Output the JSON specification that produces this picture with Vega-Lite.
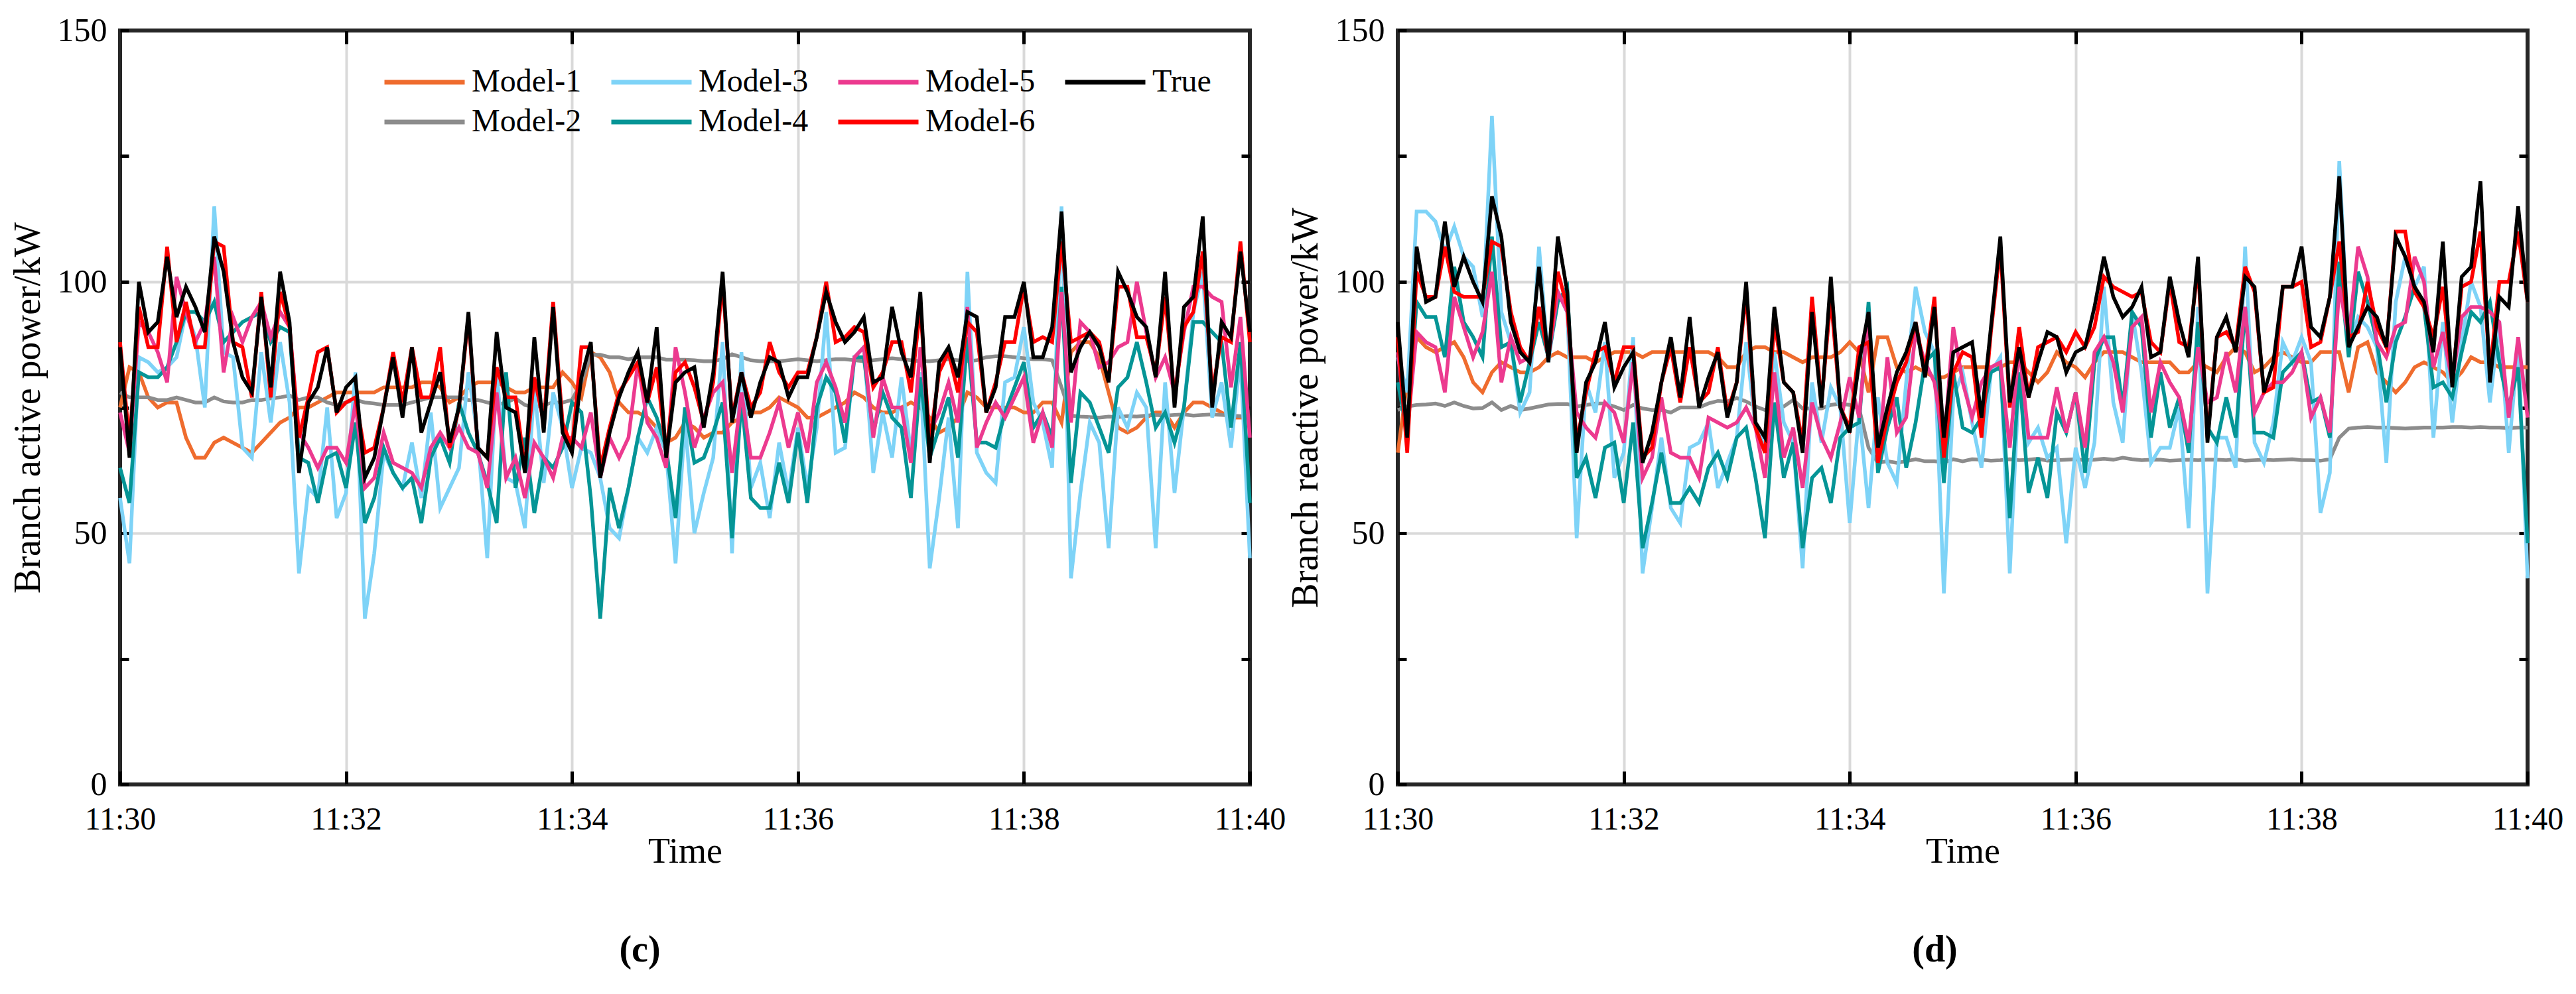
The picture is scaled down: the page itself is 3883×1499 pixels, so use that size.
{
  "$schema": "https://vega.github.io/schema/vega-lite/v6.json",
  "background": "white",
  "padding": {"left": 11, "top": 18, "right": 5, "bottom": 5},
  "spacing": 223,
  "bounds": "flush",
  "config": {
    "font": "Liberation Serif",
    "view": {"stroke": "#262626", "strokeWidth": 6},
    "axis": {
      "labelFont": "Liberation Serif",
      "titleFont": "Liberation Serif",
      "labelColor": "black",
      "titleColor": "black",
      "titleFontWeight": "normal",
      "domain": false,
      "tickColor": "black",
      "tickWidth": 5,
      "labelFlush": false,
      "labelOverlap": false,
      "gridColor": "#d9d9d9",
      "gridWidth": 4
    },
    "legend": {
      "orient": "none",
      "columns": 4,
      "symbolType": "M-2,0H2",
      "symbolSize": 3660,
      "symbolStrokeWidth": 7,
      "symbolOffset": 16,
      "labelOffset": 37,
      "labelFont": "Liberation Serif",
      "labelFontSize": 48,
      "labelColor": "black",
      "labelLimit": 400,
      "columnPadding": 30,
      "rowPadding": 2,
      "padding": 0,
      "title": null
    },
    "title": {"font": "Liberation Serif"}
  },
  "datasets": {
    "c": [
      {"s":"Model-1","t":0,"v":75},{"s":"Model-1","t":5,"v":83},{"s":"Model-1","t":10,"v":82},{"s":"Model-1","t":15,"v":77},{"s":"Model-1","t":20,"v":75},{"s":"Model-1","t":25,"v":76},{"s":"Model-1","t":30,"v":76},{"s":"Model-1","t":35,"v":69},{"s":"Model-1","t":40,"v":65},{"s":"Model-1","t":45,"v":65},
      {"s":"Model-1","t":50,"v":68},{"s":"Model-1","t":55,"v":69},{"s":"Model-1","t":60,"v":68},{"s":"Model-1","t":65,"v":67},{"s":"Model-1","t":70,"v":66},{"s":"Model-1","t":75,"v":68},{"s":"Model-1","t":80,"v":70},{"s":"Model-1","t":85,"v":72},{"s":"Model-1","t":90,"v":73},{"s":"Model-1","t":95,"v":75},
      {"s":"Model-1","t":100,"v":75},{"s":"Model-1","t":105,"v":76},{"s":"Model-1","t":110,"v":77},{"s":"Model-1","t":115,"v":78},{"s":"Model-1","t":120,"v":78},{"s":"Model-1","t":125,"v":78},{"s":"Model-1","t":130,"v":78},{"s":"Model-1","t":135,"v":78},{"s":"Model-1","t":140,"v":79},{"s":"Model-1","t":145,"v":79},
      {"s":"Model-1","t":150,"v":79},{"s":"Model-1","t":155,"v":79},{"s":"Model-1","t":160,"v":80},{"s":"Model-1","t":165,"v":80},{"s":"Model-1","t":170,"v":79},{"s":"Model-1","t":175,"v":76},{"s":"Model-1","t":180,"v":77},{"s":"Model-1","t":185,"v":79},{"s":"Model-1","t":190,"v":80},{"s":"Model-1","t":195,"v":80},
      {"s":"Model-1","t":200,"v":80},{"s":"Model-1","t":205,"v":79},{"s":"Model-1","t":210,"v":78},{"s":"Model-1","t":215,"v":78},{"s":"Model-1","t":220,"v":79},{"s":"Model-1","t":225,"v":79},{"s":"Model-1","t":230,"v":79},{"s":"Model-1","t":235,"v":82},{"s":"Model-1","t":240,"v":80},{"s":"Model-1","t":245,"v":77},
      {"s":"Model-1","t":250,"v":86},{"s":"Model-1","t":255,"v":85},{"s":"Model-1","t":260,"v":82},{"s":"Model-1","t":265,"v":76},{"s":"Model-1","t":270,"v":74},{"s":"Model-1","t":275,"v":74},{"s":"Model-1","t":280,"v":73},{"s":"Model-1","t":285,"v":71},{"s":"Model-1","t":290,"v":68},{"s":"Model-1","t":295,"v":69},
      {"s":"Model-1","t":300,"v":72},{"s":"Model-1","t":305,"v":71},{"s":"Model-1","t":310,"v":69},{"s":"Model-1","t":315,"v":70},{"s":"Model-1","t":320,"v":70},{"s":"Model-1","t":325,"v":72},{"s":"Model-1","t":330,"v":73},{"s":"Model-1","t":335,"v":74},{"s":"Model-1","t":340,"v":74},{"s":"Model-1","t":345,"v":75},
      {"s":"Model-1","t":350,"v":77},{"s":"Model-1","t":355,"v":76},{"s":"Model-1","t":360,"v":75},{"s":"Model-1","t":365,"v":73},{"s":"Model-1","t":370,"v":73},{"s":"Model-1","t":375,"v":74},{"s":"Model-1","t":380,"v":75},{"s":"Model-1","t":385,"v":76},{"s":"Model-1","t":390,"v":78},{"s":"Model-1","t":395,"v":77},
      {"s":"Model-1","t":400,"v":75},{"s":"Model-1","t":405,"v":74},{"s":"Model-1","t":410,"v":74},{"s":"Model-1","t":415,"v":75},{"s":"Model-1","t":420,"v":76},{"s":"Model-1","t":425,"v":75},{"s":"Model-1","t":430,"v":73},{"s":"Model-1","t":435,"v":70},{"s":"Model-1","t":440,"v":71},{"s":"Model-1","t":445,"v":73},
      {"s":"Model-1","t":450,"v":78},{"s":"Model-1","t":455,"v":77},{"s":"Model-1","t":460,"v":75},{"s":"Model-1","t":465,"v":75},{"s":"Model-1","t":470,"v":75},{"s":"Model-1","t":475,"v":75},{"s":"Model-1","t":480,"v":74},{"s":"Model-1","t":485,"v":74},{"s":"Model-1","t":490,"v":76},{"s":"Model-1","t":495,"v":76},
      {"s":"Model-1","t":500,"v":72},{"s":"Model-1","t":505,"v":86},{"s":"Model-1","t":510,"v":88},{"s":"Model-1","t":515,"v":88},{"s":"Model-1","t":520,"v":85},{"s":"Model-1","t":525,"v":78},{"s":"Model-1","t":530,"v":71},{"s":"Model-1","t":535,"v":70},{"s":"Model-1","t":540,"v":71},{"s":"Model-1","t":545,"v":73},
      {"s":"Model-1","t":550,"v":74},{"s":"Model-1","t":555,"v":74},{"s":"Model-1","t":560,"v":71},{"s":"Model-1","t":565,"v":74},{"s":"Model-1","t":570,"v":76},{"s":"Model-1","t":575,"v":76},{"s":"Model-1","t":580,"v":75},{"s":"Model-1","t":585,"v":74},{"s":"Model-1","t":590,"v":73},{"s":"Model-1","t":595,"v":73},{"s":"Model-1","t":600,"v":73},

      {"s":"Model-2","t":0,"v":78},{"s":"Model-2","t":5,"v":77},{"s":"Model-2","t":10,"v":77},{"s":"Model-2","t":15,"v":77},{"s":"Model-2","t":20,"v":76.5},{"s":"Model-2","t":25,"v":76.5},{"s":"Model-2","t":30,"v":77},{"s":"Model-2","t":35,"v":76.5},{"s":"Model-2","t":40,"v":76},{"s":"Model-2","t":45,"v":76},
      {"s":"Model-2","t":50,"v":77},{"s":"Model-2","t":55,"v":76.2},{"s":"Model-2","t":60,"v":76},{"s":"Model-2","t":65,"v":76},{"s":"Model-2","t":70,"v":76.5},{"s":"Model-2","t":75,"v":76.5},{"s":"Model-2","t":80,"v":76.8},{"s":"Model-2","t":85,"v":77},{"s":"Model-2","t":90,"v":77.4},{"s":"Model-2","t":95,"v":76.5},
      {"s":"Model-2","t":100,"v":77},{"s":"Model-2","t":105,"v":77},{"s":"Model-2","t":110,"v":76},{"s":"Model-2","t":115,"v":75.5},{"s":"Model-2","t":120,"v":76},{"s":"Model-2","t":125,"v":76.5},{"s":"Model-2","t":130,"v":76},{"s":"Model-2","t":135,"v":75.8},{"s":"Model-2","t":140,"v":75.5},{"s":"Model-2","t":145,"v":75.5},
      {"s":"Model-2","t":150,"v":75.5},{"s":"Model-2","t":155,"v":76},{"s":"Model-2","t":160,"v":76.5},{"s":"Model-2","t":165,"v":77},{"s":"Model-2","t":170,"v":77},{"s":"Model-2","t":175,"v":77},{"s":"Model-2","t":180,"v":77},{"s":"Model-2","t":185,"v":76.5},{"s":"Model-2","t":190,"v":76.5},{"s":"Model-2","t":195,"v":76},
      {"s":"Model-2","t":200,"v":75.5},{"s":"Model-2","t":205,"v":76},{"s":"Model-2","t":210,"v":76.8},{"s":"Model-2","t":215,"v":75.5},{"s":"Model-2","t":220,"v":75},{"s":"Model-2","t":225,"v":75.5},{"s":"Model-2","t":230,"v":76},{"s":"Model-2","t":235,"v":76},{"s":"Model-2","t":240,"v":76.5},{"s":"Model-2","t":245,"v":80},
      {"s":"Model-2","t":250,"v":85.5},{"s":"Model-2","t":255,"v":85.5},{"s":"Model-2","t":260,"v":85},{"s":"Model-2","t":265,"v":85},{"s":"Model-2","t":270,"v":84.6},{"s":"Model-2","t":275,"v":85},{"s":"Model-2","t":280,"v":85},{"s":"Model-2","t":285,"v":85},{"s":"Model-2","t":290,"v":84.5},{"s":"Model-2","t":295,"v":84.5},
      {"s":"Model-2","t":300,"v":84.5},{"s":"Model-2","t":305,"v":84.4},{"s":"Model-2","t":310,"v":84.2},{"s":"Model-2","t":315,"v":84.2},{"s":"Model-2","t":320,"v":84.6},{"s":"Model-2","t":325,"v":85.6},{"s":"Model-2","t":330,"v":85},{"s":"Model-2","t":335,"v":84.4},{"s":"Model-2","t":340,"v":84.2},{"s":"Model-2","t":345,"v":84.2},
      {"s":"Model-2","t":350,"v":84.2},{"s":"Model-2","t":355,"v":84.4},{"s":"Model-2","t":360,"v":84.6},{"s":"Model-2","t":365,"v":84.4},{"s":"Model-2","t":370,"v":84.2},{"s":"Model-2","t":375,"v":84.4},{"s":"Model-2","t":380,"v":84.6},{"s":"Model-2","t":385,"v":84.6},{"s":"Model-2","t":390,"v":84.4},{"s":"Model-2","t":395,"v":84.2},
      {"s":"Model-2","t":400,"v":84.4},{"s":"Model-2","t":405,"v":84.6},{"s":"Model-2","t":410,"v":84.8},{"s":"Model-2","t":415,"v":84.6},{"s":"Model-2","t":420,"v":84.4},{"s":"Model-2","t":425,"v":84.2},{"s":"Model-2","t":430,"v":84.2},{"s":"Model-2","t":435,"v":84.4},{"s":"Model-2","t":440,"v":84.6},{"s":"Model-2","t":445,"v":84.4},
      {"s":"Model-2","t":450,"v":84.2},{"s":"Model-2","t":455,"v":84.4},{"s":"Model-2","t":460,"v":85},{"s":"Model-2","t":465,"v":85.2},{"s":"Model-2","t":470,"v":85.2},{"s":"Model-2","t":475,"v":85},{"s":"Model-2","t":480,"v":84.8},{"s":"Model-2","t":485,"v":84.6},{"s":"Model-2","t":490,"v":84.6},{"s":"Model-2","t":495,"v":84.4},
      {"s":"Model-2","t":500,"v":79},{"s":"Model-2","t":505,"v":73.4},{"s":"Model-2","t":510,"v":73.2},{"s":"Model-2","t":515,"v":73.1},{"s":"Model-2","t":520,"v":73},{"s":"Model-2","t":525,"v":73.2},{"s":"Model-2","t":530,"v":73.1},{"s":"Model-2","t":535,"v":73.3},{"s":"Model-2","t":540,"v":73.2},{"s":"Model-2","t":545,"v":73.4},
      {"s":"Model-2","t":550,"v":73.5},{"s":"Model-2","t":555,"v":73.4},{"s":"Model-2","t":560,"v":73.5},{"s":"Model-2","t":565,"v":73.6},{"s":"Model-2","t":570,"v":73.4},{"s":"Model-2","t":575,"v":73.5},{"s":"Model-2","t":580,"v":73.6},{"s":"Model-2","t":585,"v":73.5},{"s":"Model-2","t":590,"v":73.4},{"s":"Model-2","t":595,"v":73.3},{"s":"Model-2","t":600,"v":73.3},

      {"s":"Model-3","t":0,"v":57},{"s":"Model-3","t":5,"v":44},{"s":"Model-3","t":10,"v":85},{"s":"Model-3","t":15,"v":84},{"s":"Model-3","t":20,"v":82},{"s":"Model-3","t":25,"v":83},{"s":"Model-3","t":30,"v":85},{"s":"Model-3","t":35,"v":94},{"s":"Model-3","t":40,"v":89},{"s":"Model-3","t":45,"v":75},
      {"s":"Model-3","t":50,"v":115},{"s":"Model-3","t":55,"v":86},{"s":"Model-3","t":60,"v":85},{"s":"Model-3","t":65,"v":67},{"s":"Model-3","t":70,"v":65},{"s":"Model-3","t":75,"v":86},{"s":"Model-3","t":80,"v":72},{"s":"Model-3","t":85,"v":88},{"s":"Model-3","t":90,"v":76},{"s":"Model-3","t":95,"v":42},
      {"s":"Model-3","t":100,"v":59},{"s":"Model-3","t":105,"v":57},{"s":"Model-3","t":110,"v":75},{"s":"Model-3","t":115,"v":53},{"s":"Model-3","t":120,"v":58},{"s":"Model-3","t":125,"v":82},{"s":"Model-3","t":130,"v":33},{"s":"Model-3","t":135,"v":46},{"s":"Model-3","t":140,"v":66},{"s":"Model-3","t":145,"v":62},
      {"s":"Model-3","t":150,"v":59},{"s":"Model-3","t":155,"v":68},{"s":"Model-3","t":160,"v":57},{"s":"Model-3","t":165,"v":74},{"s":"Model-3","t":170,"v":55},{"s":"Model-3","t":175,"v":59},{"s":"Model-3","t":180,"v":63},{"s":"Model-3","t":185,"v":82},{"s":"Model-3","t":190,"v":69},{"s":"Model-3","t":195,"v":45},
      {"s":"Model-3","t":200,"v":82},{"s":"Model-3","t":205,"v":61},{"s":"Model-3","t":210,"v":60},{"s":"Model-3","t":215,"v":51},{"s":"Model-3","t":220,"v":79},{"s":"Model-3","t":225,"v":60},{"s":"Model-3","t":230,"v":78},{"s":"Model-3","t":235,"v":71},{"s":"Model-3","t":240,"v":59},{"s":"Model-3","t":245,"v":67},
      {"s":"Model-3","t":250,"v":66},{"s":"Model-3","t":255,"v":61},{"s":"Model-3","t":260,"v":51},{"s":"Model-3","t":265,"v":49},{"s":"Model-3","t":270,"v":59},{"s":"Model-3","t":275,"v":69},{"s":"Model-3","t":280,"v":66},{"s":"Model-3","t":285,"v":71},{"s":"Model-3","t":290,"v":66},{"s":"Model-3","t":295,"v":44},
      {"s":"Model-3","t":300,"v":72},{"s":"Model-3","t":305,"v":50},{"s":"Model-3","t":310,"v":58},{"s":"Model-3","t":315,"v":65},{"s":"Model-3","t":320,"v":88},{"s":"Model-3","t":325,"v":46},{"s":"Model-3","t":330,"v":86},{"s":"Model-3","t":335,"v":59},{"s":"Model-3","t":340,"v":64},{"s":"Model-3","t":345,"v":53},
      {"s":"Model-3","t":350,"v":68},{"s":"Model-3","t":355,"v":58},{"s":"Model-3","t":360,"v":71},{"s":"Model-3","t":365,"v":59},{"s":"Model-3","t":370,"v":71},{"s":"Model-3","t":375,"v":94},{"s":"Model-3","t":380,"v":66},{"s":"Model-3","t":385,"v":67},{"s":"Model-3","t":390,"v":85},{"s":"Model-3","t":395,"v":87},
      {"s":"Model-3","t":400,"v":62},{"s":"Model-3","t":405,"v":74},{"s":"Model-3","t":410,"v":65},{"s":"Model-3","t":415,"v":81},{"s":"Model-3","t":420,"v":66},{"s":"Model-3","t":425,"v":82},{"s":"Model-3","t":430,"v":43},{"s":"Model-3","t":435,"v":57},{"s":"Model-3","t":440,"v":73},{"s":"Model-3","t":445,"v":51},
      {"s":"Model-3","t":450,"v":102},{"s":"Model-3","t":455,"v":66},{"s":"Model-3","t":460,"v":62},{"s":"Model-3","t":465,"v":60},{"s":"Model-3","t":470,"v":80},{"s":"Model-3","t":475,"v":81},{"s":"Model-3","t":480,"v":91},{"s":"Model-3","t":485,"v":76},{"s":"Model-3","t":490,"v":72},{"s":"Model-3","t":495,"v":63},
      {"s":"Model-3","t":500,"v":115},{"s":"Model-3","t":505,"v":41},{"s":"Model-3","t":510,"v":58},{"s":"Model-3","t":515,"v":72},{"s":"Model-3","t":520,"v":68},{"s":"Model-3","t":525,"v":47},{"s":"Model-3","t":530,"v":75},{"s":"Model-3","t":535,"v":71},{"s":"Model-3","t":540,"v":78},{"s":"Model-3","t":545,"v":75},
      {"s":"Model-3","t":550,"v":47},{"s":"Model-3","t":555,"v":80},{"s":"Model-3","t":560,"v":58},{"s":"Model-3","t":565,"v":75},{"s":"Model-3","t":570,"v":94},{"s":"Model-3","t":575,"v":102},{"s":"Model-3","t":580,"v":73},{"s":"Model-3","t":585,"v":80},{"s":"Model-3","t":590,"v":67},{"s":"Model-3","t":595,"v":85},{"s":"Model-3","t":600,"v":45},

      {"s":"Model-4","t":0,"v":63},{"s":"Model-4","t":5,"v":56},{"s":"Model-4","t":10,"v":82},{"s":"Model-4","t":15,"v":81},{"s":"Model-4","t":20,"v":81},{"s":"Model-4","t":25,"v":83},{"s":"Model-4","t":30,"v":88},{"s":"Model-4","t":35,"v":94},{"s":"Model-4","t":40,"v":94},{"s":"Model-4","t":45,"v":92},
      {"s":"Model-4","t":50,"v":96},{"s":"Model-4","t":55,"v":88},{"s":"Model-4","t":60,"v":90},{"s":"Model-4","t":65,"v":92},{"s":"Model-4","t":70,"v":93},{"s":"Model-4","t":75,"v":94},{"s":"Model-4","t":80,"v":88},{"s":"Model-4","t":85,"v":91},{"s":"Model-4","t":90,"v":90},{"s":"Model-4","t":95,"v":65},
      {"s":"Model-4","t":100,"v":64},{"s":"Model-4","t":105,"v":56},{"s":"Model-4","t":110,"v":65},{"s":"Model-4","t":115,"v":66},{"s":"Model-4","t":120,"v":59},{"s":"Model-4","t":125,"v":72},{"s":"Model-4","t":130,"v":52},{"s":"Model-4","t":135,"v":57},{"s":"Model-4","t":140,"v":67},{"s":"Model-4","t":145,"v":62},
      {"s":"Model-4","t":150,"v":59},{"s":"Model-4","t":155,"v":61},{"s":"Model-4","t":160,"v":52},{"s":"Model-4","t":165,"v":65},{"s":"Model-4","t":170,"v":69},{"s":"Model-4","t":175,"v":64},{"s":"Model-4","t":180,"v":76},{"s":"Model-4","t":185,"v":70},{"s":"Model-4","t":190,"v":66},{"s":"Model-4","t":195,"v":60},
      {"s":"Model-4","t":200,"v":52},{"s":"Model-4","t":205,"v":82},{"s":"Model-4","t":210,"v":59},{"s":"Model-4","t":215,"v":69},{"s":"Model-4","t":220,"v":54},{"s":"Model-4","t":225,"v":65},{"s":"Model-4","t":230,"v":63},{"s":"Model-4","t":235,"v":67},{"s":"Model-4","t":240,"v":76},{"s":"Model-4","t":245,"v":74},
      {"s":"Model-4","t":250,"v":57},{"s":"Model-4","t":255,"v":33},{"s":"Model-4","t":260,"v":59},{"s":"Model-4","t":265,"v":51},{"s":"Model-4","t":270,"v":59},{"s":"Model-4","t":275,"v":69},{"s":"Model-4","t":280,"v":77},{"s":"Model-4","t":285,"v":73},{"s":"Model-4","t":290,"v":67},{"s":"Model-4","t":295,"v":53},
      {"s":"Model-4","t":300,"v":75},{"s":"Model-4","t":305,"v":64},{"s":"Model-4","t":310,"v":65},{"s":"Model-4","t":315,"v":70},{"s":"Model-4","t":320,"v":76},{"s":"Model-4","t":325,"v":49},{"s":"Model-4","t":330,"v":77},{"s":"Model-4","t":335,"v":57},{"s":"Model-4","t":340,"v":55},{"s":"Model-4","t":345,"v":55},
      {"s":"Model-4","t":350,"v":64},{"s":"Model-4","t":355,"v":56},{"s":"Model-4","t":360,"v":70},{"s":"Model-4","t":365,"v":56},{"s":"Model-4","t":370,"v":75},{"s":"Model-4","t":375,"v":81},{"s":"Model-4","t":380,"v":78},{"s":"Model-4","t":385,"v":68},{"s":"Model-4","t":390,"v":85},{"s":"Model-4","t":395,"v":85},
      {"s":"Model-4","t":400,"v":70},{"s":"Model-4","t":405,"v":78},{"s":"Model-4","t":410,"v":73},{"s":"Model-4","t":415,"v":71},{"s":"Model-4","t":420,"v":57},{"s":"Model-4","t":425,"v":81},{"s":"Model-4","t":430,"v":65},{"s":"Model-4","t":435,"v":71},{"s":"Model-4","t":440,"v":77},{"s":"Model-4","t":445,"v":65},
      {"s":"Model-4","t":450,"v":89},{"s":"Model-4","t":455,"v":68},{"s":"Model-4","t":460,"v":68},{"s":"Model-4","t":465,"v":67},{"s":"Model-4","t":470,"v":74},{"s":"Model-4","t":475,"v":79},{"s":"Model-4","t":480,"v":84},{"s":"Model-4","t":485,"v":71},{"s":"Model-4","t":490,"v":74},{"s":"Model-4","t":495,"v":69},
      {"s":"Model-4","t":500,"v":99},{"s":"Model-4","t":505,"v":60},{"s":"Model-4","t":510,"v":78},{"s":"Model-4","t":515,"v":76},{"s":"Model-4","t":520,"v":71},{"s":"Model-4","t":525,"v":66},{"s":"Model-4","t":530,"v":79},{"s":"Model-4","t":535,"v":81},{"s":"Model-4","t":540,"v":88},{"s":"Model-4","t":545,"v":80},
      {"s":"Model-4","t":550,"v":71},{"s":"Model-4","t":555,"v":74},{"s":"Model-4","t":560,"v":68},{"s":"Model-4","t":565,"v":75},{"s":"Model-4","t":570,"v":92},{"s":"Model-4","t":575,"v":92},{"s":"Model-4","t":580,"v":90},{"s":"Model-4","t":585,"v":88},{"s":"Model-4","t":590,"v":71},{"s":"Model-4","t":595,"v":88},{"s":"Model-4","t":600,"v":56},

      {"s":"Model-5","t":0,"v":74},{"s":"Model-5","t":5,"v":66},{"s":"Model-5","t":10,"v":92},{"s":"Model-5","t":15,"v":90},{"s":"Model-5","t":20,"v":86},{"s":"Model-5","t":25,"v":80},{"s":"Model-5","t":30,"v":101},{"s":"Model-5","t":35,"v":94},{"s":"Model-5","t":40,"v":88},{"s":"Model-5","t":45,"v":92},
      {"s":"Model-5","t":50,"v":105},{"s":"Model-5","t":55,"v":82},{"s":"Model-5","t":60,"v":93},{"s":"Model-5","t":65,"v":88},{"s":"Model-5","t":70,"v":93},{"s":"Model-5","t":75,"v":96},{"s":"Model-5","t":80,"v":89},{"s":"Model-5","t":85,"v":94},{"s":"Model-5","t":90,"v":91},{"s":"Model-5","t":95,"v":70},
      {"s":"Model-5","t":100,"v":67},{"s":"Model-5","t":105,"v":63},{"s":"Model-5","t":110,"v":67},{"s":"Model-5","t":115,"v":67},{"s":"Model-5","t":120,"v":64},{"s":"Model-5","t":125,"v":76},{"s":"Model-5","t":130,"v":59},{"s":"Model-5","t":135,"v":61},{"s":"Model-5","t":140,"v":70},{"s":"Model-5","t":145,"v":64},
      {"s":"Model-5","t":150,"v":63},{"s":"Model-5","t":155,"v":62},{"s":"Model-5","t":160,"v":59},{"s":"Model-5","t":165,"v":67},{"s":"Model-5","t":170,"v":70},{"s":"Model-5","t":175,"v":67},{"s":"Model-5","t":180,"v":71},{"s":"Model-5","t":185,"v":67},{"s":"Model-5","t":190,"v":66},{"s":"Model-5","t":195,"v":59},
      {"s":"Model-5","t":200,"v":78},{"s":"Model-5","t":205,"v":61},{"s":"Model-5","t":210,"v":65},{"s":"Model-5","t":215,"v":57},{"s":"Model-5","t":220,"v":68},{"s":"Model-5","t":225,"v":65},{"s":"Model-5","t":230,"v":61},{"s":"Model-5","t":235,"v":69},{"s":"Model-5","t":240,"v":69},{"s":"Model-5","t":245,"v":67},
      {"s":"Model-5","t":250,"v":74},{"s":"Model-5","t":255,"v":61},{"s":"Model-5","t":260,"v":69},{"s":"Model-5","t":265,"v":65},{"s":"Model-5","t":270,"v":69},{"s":"Model-5","t":275,"v":84},{"s":"Model-5","t":280,"v":72},{"s":"Model-5","t":285,"v":69},{"s":"Model-5","t":290,"v":63},{"s":"Model-5","t":295,"v":87},
      {"s":"Model-5","t":300,"v":78},{"s":"Model-5","t":305,"v":67},{"s":"Model-5","t":310,"v":73},{"s":"Model-5","t":315,"v":78},{"s":"Model-5","t":320,"v":80},{"s":"Model-5","t":325,"v":62},{"s":"Model-5","t":330,"v":78},{"s":"Model-5","t":335,"v":65},{"s":"Model-5","t":340,"v":65},{"s":"Model-5","t":345,"v":70},
      {"s":"Model-5","t":350,"v":76},{"s":"Model-5","t":355,"v":67},{"s":"Model-5","t":360,"v":74},{"s":"Model-5","t":365,"v":66},{"s":"Model-5","t":370,"v":80},{"s":"Model-5","t":375,"v":84},{"s":"Model-5","t":380,"v":79},{"s":"Model-5","t":385,"v":72},{"s":"Model-5","t":390,"v":85},{"s":"Model-5","t":395,"v":87},
      {"s":"Model-5","t":400,"v":69},{"s":"Model-5","t":405,"v":81},{"s":"Model-5","t":410,"v":75},{"s":"Model-5","t":415,"v":75},{"s":"Model-5","t":420,"v":64},{"s":"Model-5","t":425,"v":87},{"s":"Model-5","t":430,"v":70},{"s":"Model-5","t":435,"v":74},{"s":"Model-5","t":440,"v":80},{"s":"Model-5","t":445,"v":72},
      {"s":"Model-5","t":450,"v":95},{"s":"Model-5","t":455,"v":67},{"s":"Model-5","t":460,"v":72},{"s":"Model-5","t":465,"v":76},{"s":"Model-5","t":470,"v":73},{"s":"Model-5","t":475,"v":77},{"s":"Model-5","t":480,"v":81},{"s":"Model-5","t":485,"v":68},{"s":"Model-5","t":490,"v":74},{"s":"Model-5","t":495,"v":67},
      {"s":"Model-5","t":500,"v":98},{"s":"Model-5","t":505,"v":72},{"s":"Model-5","t":510,"v":92},{"s":"Model-5","t":515,"v":90},{"s":"Model-5","t":520,"v":83},{"s":"Model-5","t":525,"v":84},{"s":"Model-5","t":530,"v":87},{"s":"Model-5","t":535,"v":88},{"s":"Model-5","t":540,"v":100},{"s":"Model-5","t":545,"v":90},
      {"s":"Model-5","t":550,"v":81},{"s":"Model-5","t":555,"v":85},{"s":"Model-5","t":560,"v":78},{"s":"Model-5","t":565,"v":90},{"s":"Model-5","t":570,"v":99},{"s":"Model-5","t":575,"v":99},{"s":"Model-5","t":580,"v":97},{"s":"Model-5","t":585,"v":96},{"s":"Model-5","t":590,"v":79},{"s":"Model-5","t":595,"v":93},{"s":"Model-5","t":600,"v":69},

      {"s":"Model-6","t":0,"v":88},{"s":"Model-6","t":5,"v":68},{"s":"Model-6","t":10,"v":95},{"s":"Model-6","t":15,"v":87},{"s":"Model-6","t":20,"v":87},{"s":"Model-6","t":25,"v":107},{"s":"Model-6","t":30,"v":88},{"s":"Model-6","t":35,"v":96},{"s":"Model-6","t":40,"v":87},{"s":"Model-6","t":45,"v":87},
      {"s":"Model-6","t":50,"v":108},{"s":"Model-6","t":55,"v":107},{"s":"Model-6","t":60,"v":88},{"s":"Model-6","t":65,"v":87},{"s":"Model-6","t":70,"v":77},{"s":"Model-6","t":75,"v":98},{"s":"Model-6","t":80,"v":77},{"s":"Model-6","t":85,"v":98},{"s":"Model-6","t":90,"v":91},{"s":"Model-6","t":95,"v":69},
      {"s":"Model-6","t":100,"v":77},{"s":"Model-6","t":105,"v":86},{"s":"Model-6","t":110,"v":87},{"s":"Model-6","t":115,"v":74},{"s":"Model-6","t":120,"v":76},{"s":"Model-6","t":125,"v":77},{"s":"Model-6","t":130,"v":66},{"s":"Model-6","t":135,"v":67},{"s":"Model-6","t":140,"v":75},{"s":"Model-6","t":145,"v":86},
      {"s":"Model-6","t":150,"v":76},{"s":"Model-6","t":155,"v":87},{"s":"Model-6","t":160,"v":77},{"s":"Model-6","t":165,"v":77},{"s":"Model-6","t":170,"v":87},{"s":"Model-6","t":175,"v":67},{"s":"Model-6","t":180,"v":75},{"s":"Model-6","t":185,"v":93},{"s":"Model-6","t":190,"v":67},{"s":"Model-6","t":195,"v":65},
      {"s":"Model-6","t":200,"v":83},{"s":"Model-6","t":205,"v":77},{"s":"Model-6","t":210,"v":77},{"s":"Model-6","t":215,"v":63},{"s":"Model-6","t":220,"v":81},{"s":"Model-6","t":225,"v":72},{"s":"Model-6","t":230,"v":96},{"s":"Model-6","t":235,"v":72},{"s":"Model-6","t":240,"v":67},{"s":"Model-6","t":245,"v":87},
      {"s":"Model-6","t":250,"v":87},{"s":"Model-6","t":255,"v":63},{"s":"Model-6","t":260,"v":71},{"s":"Model-6","t":265,"v":78},{"s":"Model-6","t":270,"v":81},{"s":"Model-6","t":275,"v":84},{"s":"Model-6","t":280,"v":76},{"s":"Model-6","t":285,"v":83},{"s":"Model-6","t":290,"v":66},{"s":"Model-6","t":295,"v":82},
      {"s":"Model-6","t":300,"v":84},{"s":"Model-6","t":305,"v":79},{"s":"Model-6","t":310,"v":72},{"s":"Model-6","t":315,"v":80},{"s":"Model-6","t":320,"v":100},{"s":"Model-6","t":325,"v":73},{"s":"Model-6","t":330,"v":82},{"s":"Model-6","t":335,"v":75},{"s":"Model-6","t":340,"v":78},{"s":"Model-6","t":345,"v":88},
      {"s":"Model-6","t":350,"v":82},{"s":"Model-6","t":355,"v":79},{"s":"Model-6","t":360,"v":82},{"s":"Model-6","t":365,"v":82},{"s":"Model-6","t":370,"v":89},{"s":"Model-6","t":375,"v":100},{"s":"Model-6","t":380,"v":88},{"s":"Model-6","t":385,"v":89},{"s":"Model-6","t":390,"v":91},{"s":"Model-6","t":395,"v":90},
      {"s":"Model-6","t":400,"v":79},{"s":"Model-6","t":405,"v":82},{"s":"Model-6","t":410,"v":88},{"s":"Model-6","t":415,"v":88},{"s":"Model-6","t":420,"v":78},{"s":"Model-6","t":425,"v":95},{"s":"Model-6","t":430,"v":68},{"s":"Model-6","t":435,"v":82},{"s":"Model-6","t":440,"v":86},{"s":"Model-6","t":445,"v":78},
      {"s":"Model-6","t":450,"v":92},{"s":"Model-6","t":455,"v":90},{"s":"Model-6","t":460,"v":74},{"s":"Model-6","t":465,"v":80},{"s":"Model-6","t":470,"v":88},{"s":"Model-6","t":475,"v":88},{"s":"Model-6","t":480,"v":99},{"s":"Model-6","t":485,"v":88},{"s":"Model-6","t":490,"v":89},{"s":"Model-6","t":495,"v":88},
      {"s":"Model-6","t":500,"v":108},{"s":"Model-6","t":505,"v":88},{"s":"Model-6","t":510,"v":89},{"s":"Model-6","t":515,"v":90},{"s":"Model-6","t":520,"v":88},{"s":"Model-6","t":525,"v":80},{"s":"Model-6","t":530,"v":99},{"s":"Model-6","t":535,"v":99},{"s":"Model-6","t":540,"v":89},{"s":"Model-6","t":545,"v":89},
      {"s":"Model-6","t":550,"v":82},{"s":"Model-6","t":555,"v":97},{"s":"Model-6","t":560,"v":77},{"s":"Model-6","t":565,"v":91},{"s":"Model-6","t":570,"v":94},{"s":"Model-6","t":575,"v":106},{"s":"Model-6","t":580,"v":78},{"s":"Model-6","t":585,"v":89},{"s":"Model-6","t":590,"v":88},{"s":"Model-6","t":595,"v":108},{"s":"Model-6","t":600,"v":88},

      {"s":"True","t":0,"v":87},{"s":"True","t":5,"v":65},{"s":"True","t":10,"v":100},{"s":"True","t":15,"v":90},{"s":"True","t":20,"v":92},{"s":"True","t":25,"v":105},{"s":"True","t":30,"v":93},{"s":"True","t":35,"v":99},{"s":"True","t":40,"v":95},{"s":"True","t":45,"v":90},
      {"s":"True","t":50,"v":109},{"s":"True","t":55,"v":102},{"s":"True","t":60,"v":88},{"s":"True","t":65,"v":81},{"s":"True","t":70,"v":78},{"s":"True","t":75,"v":97},{"s":"True","t":80,"v":79},{"s":"True","t":85,"v":102},{"s":"True","t":90,"v":92},{"s":"True","t":95,"v":62},
      {"s":"True","t":100,"v":76},{"s":"True","t":105,"v":79},{"s":"True","t":110,"v":87},{"s":"True","t":115,"v":74},{"s":"True","t":120,"v":79},{"s":"True","t":125,"v":81},{"s":"True","t":130,"v":61},{"s":"True","t":135,"v":65},{"s":"True","t":140,"v":75},{"s":"True","t":145,"v":85},
      {"s":"True","t":150,"v":73},{"s":"True","t":155,"v":87},{"s":"True","t":160,"v":70},{"s":"True","t":165,"v":76},{"s":"True","t":170,"v":82},{"s":"True","t":175,"v":68},{"s":"True","t":180,"v":75},{"s":"True","t":185,"v":94},{"s":"True","t":190,"v":67},{"s":"True","t":195,"v":65},
      {"s":"True","t":200,"v":90},{"s":"True","t":205,"v":75},{"s":"True","t":210,"v":74},{"s":"True","t":215,"v":62},{"s":"True","t":220,"v":89},{"s":"True","t":225,"v":70},{"s":"True","t":230,"v":95},{"s":"True","t":235,"v":70},{"s":"True","t":240,"v":66},{"s":"True","t":245,"v":81},
      {"s":"True","t":250,"v":88},{"s":"True","t":255,"v":61},{"s":"True","t":260,"v":70},{"s":"True","t":265,"v":77},{"s":"True","t":270,"v":82},{"s":"True","t":275,"v":86},{"s":"True","t":280,"v":76},{"s":"True","t":285,"v":91},{"s":"True","t":290,"v":65},{"s":"True","t":295,"v":80},
      {"s":"True","t":300,"v":82},{"s":"True","t":305,"v":83},{"s":"True","t":310,"v":71},{"s":"True","t":315,"v":82},{"s":"True","t":320,"v":102},{"s":"True","t":325,"v":72},{"s":"True","t":330,"v":82},{"s":"True","t":335,"v":73},{"s":"True","t":340,"v":80},{"s":"True","t":345,"v":85},
      {"s":"True","t":350,"v":84},{"s":"True","t":355,"v":77},{"s":"True","t":360,"v":81},{"s":"True","t":365,"v":81},{"s":"True","t":370,"v":89},{"s":"True","t":375,"v":98},{"s":"True","t":380,"v":92},{"s":"True","t":385,"v":88},{"s":"True","t":390,"v":90},{"s":"True","t":395,"v":93},
      {"s":"True","t":400,"v":80},{"s":"True","t":405,"v":81},{"s":"True","t":410,"v":95},{"s":"True","t":415,"v":86},{"s":"True","t":420,"v":81},{"s":"True","t":425,"v":98},{"s":"True","t":430,"v":64},{"s":"True","t":435,"v":84},{"s":"True","t":440,"v":87},{"s":"True","t":445,"v":81},
      {"s":"True","t":450,"v":94},{"s":"True","t":455,"v":93},{"s":"True","t":460,"v":74},{"s":"True","t":465,"v":79},{"s":"True","t":470,"v":93},{"s":"True","t":475,"v":93},{"s":"True","t":480,"v":100},{"s":"True","t":485,"v":85},{"s":"True","t":490,"v":85},{"s":"True","t":495,"v":91},
      {"s":"True","t":500,"v":114},{"s":"True","t":505,"v":82},{"s":"True","t":510,"v":87},{"s":"True","t":515,"v":90},{"s":"True","t":520,"v":87},{"s":"True","t":525,"v":80},{"s":"True","t":530,"v":102},{"s":"True","t":535,"v":98},{"s":"True","t":540,"v":93},{"s":"True","t":545,"v":91},
      {"s":"True","t":550,"v":81},{"s":"True","t":555,"v":102},{"s":"True","t":560,"v":75},{"s":"True","t":565,"v":95},{"s":"True","t":570,"v":97},{"s":"True","t":575,"v":113},{"s":"True","t":580,"v":75},{"s":"True","t":585,"v":92},{"s":"True","t":590,"v":89},{"s":"True","t":595,"v":106},{"s":"True","t":600,"v":90}
    ],
    "d": [
      {"s":"Model-1","t":0,"v":66},{"s":"Model-1","t":5,"v":80},{"s":"Model-1","t":10,"v":89},{"s":"Model-1","t":15,"v":87},{"s":"Model-1","t":20,"v":86},{"s":"Model-1","t":25,"v":87},{"s":"Model-1","t":30,"v":88},{"s":"Model-1","t":35,"v":85},{"s":"Model-1","t":40,"v":80},{"s":"Model-1","t":45,"v":78},
      {"s":"Model-1","t":50,"v":82},{"s":"Model-1","t":55,"v":84},{"s":"Model-1","t":60,"v":83},{"s":"Model-1","t":65,"v":82},{"s":"Model-1","t":70,"v":82},{"s":"Model-1","t":75,"v":83},{"s":"Model-1","t":80,"v":85},{"s":"Model-1","t":85,"v":86},{"s":"Model-1","t":90,"v":85},{"s":"Model-1","t":95,"v":85},
      {"s":"Model-1","t":100,"v":85},{"s":"Model-1","t":105,"v":84},{"s":"Model-1","t":110,"v":85},{"s":"Model-1","t":115,"v":86},{"s":"Model-1","t":120,"v":86},{"s":"Model-1","t":125,"v":86},{"s":"Model-1","t":130,"v":85},{"s":"Model-1","t":135,"v":86},{"s":"Model-1","t":140,"v":86},{"s":"Model-1","t":145,"v":86},
      {"s":"Model-1","t":150,"v":86},{"s":"Model-1","t":155,"v":86},{"s":"Model-1","t":160,"v":86},{"s":"Model-1","t":165,"v":86},{"s":"Model-1","t":170,"v":85},{"s":"Model-1","t":175,"v":83},{"s":"Model-1","t":180,"v":83},{"s":"Model-1","t":185,"v":86},{"s":"Model-1","t":190,"v":87},{"s":"Model-1","t":195,"v":87},
      {"s":"Model-1","t":200,"v":86},{"s":"Model-1","t":205,"v":86},{"s":"Model-1","t":210,"v":85},{"s":"Model-1","t":215,"v":84},{"s":"Model-1","t":220,"v":85},{"s":"Model-1","t":225,"v":85},{"s":"Model-1","t":230,"v":85},{"s":"Model-1","t":235,"v":86},{"s":"Model-1","t":240,"v":88},{"s":"Model-1","t":245,"v":86},
      {"s":"Model-1","t":250,"v":78},{"s":"Model-1","t":255,"v":89},{"s":"Model-1","t":260,"v":89},{"s":"Model-1","t":265,"v":83},{"s":"Model-1","t":270,"v":82},{"s":"Model-1","t":275,"v":83},{"s":"Model-1","t":280,"v":82},{"s":"Model-1","t":285,"v":81},{"s":"Model-1","t":290,"v":81},{"s":"Model-1","t":295,"v":82},
      {"s":"Model-1","t":300,"v":83},{"s":"Model-1","t":305,"v":83},{"s":"Model-1","t":310,"v":83},{"s":"Model-1","t":315,"v":83},{"s":"Model-1","t":320,"v":83},{"s":"Model-1","t":325,"v":84},{"s":"Model-1","t":330,"v":84},{"s":"Model-1","t":335,"v":82},{"s":"Model-1","t":340,"v":80},{"s":"Model-1","t":345,"v":82},
      {"s":"Model-1","t":350,"v":86},{"s":"Model-1","t":355,"v":84},{"s":"Model-1","t":360,"v":83},{"s":"Model-1","t":365,"v":81},{"s":"Model-1","t":370,"v":84},{"s":"Model-1","t":375,"v":86},{"s":"Model-1","t":380,"v":86},{"s":"Model-1","t":385,"v":86},{"s":"Model-1","t":390,"v":85},{"s":"Model-1","t":395,"v":84},
      {"s":"Model-1","t":400,"v":84},{"s":"Model-1","t":405,"v":84},{"s":"Model-1","t":410,"v":84},{"s":"Model-1","t":415,"v":82},{"s":"Model-1","t":420,"v":82},{"s":"Model-1","t":425,"v":84},{"s":"Model-1","t":430,"v":83},{"s":"Model-1","t":435,"v":82},{"s":"Model-1","t":440,"v":85},{"s":"Model-1","t":445,"v":87},
      {"s":"Model-1","t":450,"v":86},{"s":"Model-1","t":455,"v":82},{"s":"Model-1","t":460,"v":83},{"s":"Model-1","t":465,"v":85},{"s":"Model-1","t":470,"v":86},{"s":"Model-1","t":475,"v":85},{"s":"Model-1","t":480,"v":84},{"s":"Model-1","t":485,"v":84},{"s":"Model-1","t":490,"v":86},{"s":"Model-1","t":495,"v":86},
      {"s":"Model-1","t":500,"v":86},{"s":"Model-1","t":505,"v":78},{"s":"Model-1","t":510,"v":87},{"s":"Model-1","t":515,"v":88},{"s":"Model-1","t":520,"v":82},{"s":"Model-1","t":525,"v":80},{"s":"Model-1","t":530,"v":78},{"s":"Model-1","t":535,"v":80},{"s":"Model-1","t":540,"v":83},{"s":"Model-1","t":545,"v":84},
      {"s":"Model-1","t":550,"v":83},{"s":"Model-1","t":555,"v":82},{"s":"Model-1","t":560,"v":80},{"s":"Model-1","t":565,"v":82},{"s":"Model-1","t":570,"v":85},{"s":"Model-1","t":575,"v":84},{"s":"Model-1","t":580,"v":84},{"s":"Model-1","t":585,"v":83},{"s":"Model-1","t":590,"v":83},{"s":"Model-1","t":595,"v":83},{"s":"Model-1","t":600,"v":83},

      {"s":"Model-2","t":0,"v":74.5},{"s":"Model-2","t":5,"v":75.2},{"s":"Model-2","t":10,"v":75.5},{"s":"Model-2","t":15,"v":75.6},{"s":"Model-2","t":20,"v":75.8},{"s":"Model-2","t":25,"v":75.3},{"s":"Model-2","t":30,"v":76},{"s":"Model-2","t":35,"v":75.3},{"s":"Model-2","t":40,"v":74.8},{"s":"Model-2","t":45,"v":74.9},
      {"s":"Model-2","t":50,"v":76},{"s":"Model-2","t":55,"v":74.5},{"s":"Model-2","t":60,"v":75.3},{"s":"Model-2","t":65,"v":74.5},{"s":"Model-2","t":70,"v":74.8},{"s":"Model-2","t":75,"v":75.2},{"s":"Model-2","t":80,"v":75.6},{"s":"Model-2","t":85,"v":75.7},{"s":"Model-2","t":90,"v":75.7},{"s":"Model-2","t":95,"v":75.2},
      {"s":"Model-2","t":100,"v":75.5},{"s":"Model-2","t":105,"v":75.8},{"s":"Model-2","t":110,"v":75.8},{"s":"Model-2","t":115,"v":75.2},{"s":"Model-2","t":120,"v":74.5},{"s":"Model-2","t":125,"v":75.5},{"s":"Model-2","t":130,"v":74.8},{"s":"Model-2","t":135,"v":74.5},{"s":"Model-2","t":140,"v":74.5},{"s":"Model-2","t":145,"v":74},
      {"s":"Model-2","t":150,"v":75},{"s":"Model-2","t":155,"v":75},{"s":"Model-2","t":160,"v":75},{"s":"Model-2","t":165,"v":75.8},{"s":"Model-2","t":170,"v":76.3},{"s":"Model-2","t":175,"v":76.2},{"s":"Model-2","t":180,"v":76.9},{"s":"Model-2","t":185,"v":76.2},{"s":"Model-2","t":190,"v":75.2},{"s":"Model-2","t":195,"v":74.5},
      {"s":"Model-2","t":200,"v":75.5},{"s":"Model-2","t":205,"v":75.2},{"s":"Model-2","t":210,"v":76.5},{"s":"Model-2","t":215,"v":74.8},{"s":"Model-2","t":220,"v":74.8},{"s":"Model-2","t":225,"v":74.8},{"s":"Model-2","t":230,"v":75.5},{"s":"Model-2","t":235,"v":75.8},{"s":"Model-2","t":240,"v":75.5},{"s":"Model-2","t":245,"v":74.8},
      {"s":"Model-2","t":250,"v":67},{"s":"Model-2","t":255,"v":64},{"s":"Model-2","t":260,"v":64.3},{"s":"Model-2","t":265,"v":64},{"s":"Model-2","t":270,"v":64.3},{"s":"Model-2","t":275,"v":64.7},{"s":"Model-2","t":280,"v":64.3},{"s":"Model-2","t":285,"v":64.3},{"s":"Model-2","t":290,"v":64.1},{"s":"Model-2","t":295,"v":64.7},
      {"s":"Model-2","t":300,"v":64.3},{"s":"Model-2","t":305,"v":64.7},{"s":"Model-2","t":310,"v":64.6},{"s":"Model-2","t":315,"v":64.4},{"s":"Model-2","t":320,"v":64.5},{"s":"Model-2","t":325,"v":64.7},{"s":"Model-2","t":330,"v":64.5},{"s":"Model-2","t":335,"v":64.6},{"s":"Model-2","t":340,"v":64.8},{"s":"Model-2","t":345,"v":64.4},
      {"s":"Model-2","t":350,"v":64.5},{"s":"Model-2","t":355,"v":64.6},{"s":"Model-2","t":360,"v":64.7},{"s":"Model-2","t":365,"v":64.5},{"s":"Model-2","t":370,"v":64.6},{"s":"Model-2","t":375,"v":64.8},{"s":"Model-2","t":380,"v":64.6},{"s":"Model-2","t":385,"v":65},{"s":"Model-2","t":390,"v":64.7},{"s":"Model-2","t":395,"v":64.5},
      {"s":"Model-2","t":400,"v":64.6},{"s":"Model-2","t":405,"v":64.6},{"s":"Model-2","t":410,"v":64.4},{"s":"Model-2","t":415,"v":64.5},{"s":"Model-2","t":420,"v":64.6},{"s":"Model-2","t":425,"v":64.5},{"s":"Model-2","t":430,"v":64.6},{"s":"Model-2","t":435,"v":64.6},{"s":"Model-2","t":440,"v":64.5},{"s":"Model-2","t":445,"v":64.7},
      {"s":"Model-2","t":450,"v":64.4},{"s":"Model-2","t":455,"v":64.5},{"s":"Model-2","t":460,"v":64.6},{"s":"Model-2","t":465,"v":64.5},{"s":"Model-2","t":470,"v":64.6},{"s":"Model-2","t":475,"v":64.7},{"s":"Model-2","t":480,"v":64.5},{"s":"Model-2","t":485,"v":64.5},{"s":"Model-2","t":490,"v":64.4},{"s":"Model-2","t":495,"v":64.7},
      {"s":"Model-2","t":500,"v":69},{"s":"Model-2","t":505,"v":70.8},{"s":"Model-2","t":510,"v":71},{"s":"Model-2","t":515,"v":71.1},{"s":"Model-2","t":520,"v":71},{"s":"Model-2","t":525,"v":71},{"s":"Model-2","t":530,"v":70.9},{"s":"Model-2","t":535,"v":70.8},{"s":"Model-2","t":540,"v":70.9},{"s":"Model-2","t":545,"v":71},
      {"s":"Model-2","t":550,"v":71},{"s":"Model-2","t":555,"v":71},{"s":"Model-2","t":560,"v":71.1},{"s":"Model-2","t":565,"v":71.1},{"s":"Model-2","t":570,"v":71},{"s":"Model-2","t":575,"v":71.1},{"s":"Model-2","t":580,"v":71},{"s":"Model-2","t":585,"v":71},{"s":"Model-2","t":590,"v":70.9},{"s":"Model-2","t":595,"v":71},{"s":"Model-2","t":600,"v":71},

      {"s":"Model-3","t":0,"v":85},{"s":"Model-3","t":5,"v":78},{"s":"Model-3","t":10,"v":114},{"s":"Model-3","t":15,"v":114},{"s":"Model-3","t":20,"v":112},{"s":"Model-3","t":25,"v":106},{"s":"Model-3","t":30,"v":111},{"s":"Model-3","t":35,"v":105},{"s":"Model-3","t":40,"v":103},{"s":"Model-3","t":45,"v":93},
      {"s":"Model-3","t":50,"v":133},{"s":"Model-3","t":55,"v":94},{"s":"Model-3","t":60,"v":88},{"s":"Model-3","t":65,"v":74},{"s":"Model-3","t":70,"v":78},{"s":"Model-3","t":75,"v":107},{"s":"Model-3","t":80,"v":84},{"s":"Model-3","t":85,"v":98},{"s":"Model-3","t":90,"v":94},{"s":"Model-3","t":95,"v":49},
      {"s":"Model-3","t":100,"v":80},{"s":"Model-3","t":105,"v":74},{"s":"Model-3","t":110,"v":88},{"s":"Model-3","t":115,"v":61},{"s":"Model-3","t":120,"v":66},{"s":"Model-3","t":125,"v":89},{"s":"Model-3","t":130,"v":42},{"s":"Model-3","t":135,"v":55},{"s":"Model-3","t":140,"v":69},{"s":"Model-3","t":145,"v":55},
      {"s":"Model-3","t":150,"v":52},{"s":"Model-3","t":155,"v":67},{"s":"Model-3","t":160,"v":68},{"s":"Model-3","t":165,"v":72},{"s":"Model-3","t":170,"v":59},{"s":"Model-3","t":175,"v":64},{"s":"Model-3","t":180,"v":69},{"s":"Model-3","t":185,"v":88},{"s":"Model-3","t":190,"v":71},{"s":"Model-3","t":195,"v":68},
      {"s":"Model-3","t":200,"v":86},{"s":"Model-3","t":205,"v":72},{"s":"Model-3","t":210,"v":68},{"s":"Model-3","t":215,"v":43},{"s":"Model-3","t":220,"v":80},{"s":"Model-3","t":225,"v":68},{"s":"Model-3","t":230,"v":79},{"s":"Model-3","t":235,"v":75},{"s":"Model-3","t":240,"v":52},{"s":"Model-3","t":245,"v":74},
      {"s":"Model-3","t":250,"v":55},{"s":"Model-3","t":255,"v":77},{"s":"Model-3","t":260,"v":64},{"s":"Model-3","t":265,"v":60},{"s":"Model-3","t":270,"v":80},{"s":"Model-3","t":275,"v":99},{"s":"Model-3","t":280,"v":90},{"s":"Model-3","t":285,"v":86},{"s":"Model-3","t":290,"v":38},{"s":"Model-3","t":295,"v":77},
      {"s":"Model-3","t":300,"v":82},{"s":"Model-3","t":305,"v":72},{"s":"Model-3","t":310,"v":63},{"s":"Model-3","t":315,"v":82},{"s":"Model-3","t":320,"v":85},{"s":"Model-3","t":325,"v":42},{"s":"Model-3","t":330,"v":81},{"s":"Model-3","t":335,"v":68},{"s":"Model-3","t":340,"v":71},{"s":"Model-3","t":345,"v":65},
      {"s":"Model-3","t":350,"v":67},{"s":"Model-3","t":355,"v":48},{"s":"Model-3","t":360,"v":67},{"s":"Model-3","t":365,"v":59},{"s":"Model-3","t":370,"v":68},{"s":"Model-3","t":375,"v":99},{"s":"Model-3","t":380,"v":76},{"s":"Model-3","t":385,"v":68},{"s":"Model-3","t":390,"v":94},{"s":"Model-3","t":395,"v":82},
      {"s":"Model-3","t":400,"v":64},{"s":"Model-3","t":405,"v":67},{"s":"Model-3","t":410,"v":67},{"s":"Model-3","t":415,"v":75},{"s":"Model-3","t":420,"v":51},{"s":"Model-3","t":425,"v":95},{"s":"Model-3","t":430,"v":38},{"s":"Model-3","t":435,"v":69},{"s":"Model-3","t":440,"v":69},{"s":"Model-3","t":445,"v":63},
      {"s":"Model-3","t":450,"v":107},{"s":"Model-3","t":455,"v":68},{"s":"Model-3","t":460,"v":64},{"s":"Model-3","t":465,"v":72},{"s":"Model-3","t":470,"v":88},{"s":"Model-3","t":475,"v":84},{"s":"Model-3","t":480,"v":89},{"s":"Model-3","t":485,"v":84},{"s":"Model-3","t":490,"v":54},{"s":"Model-3","t":495,"v":62},
      {"s":"Model-3","t":500,"v":124},{"s":"Model-3","t":505,"v":87},{"s":"Model-3","t":510,"v":93},{"s":"Model-3","t":515,"v":91},{"s":"Model-3","t":520,"v":87},{"s":"Model-3","t":525,"v":64},{"s":"Model-3","t":530,"v":96},{"s":"Model-3","t":535,"v":105},{"s":"Model-3","t":540,"v":99},{"s":"Model-3","t":545,"v":103},
      {"s":"Model-3","t":550,"v":69},{"s":"Model-3","t":555,"v":92},{"s":"Model-3","t":560,"v":72},{"s":"Model-3","t":565,"v":88},{"s":"Model-3","t":570,"v":100},{"s":"Model-3","t":575,"v":95},{"s":"Model-3","t":580,"v":76},{"s":"Model-3","t":585,"v":92},{"s":"Model-3","t":590,"v":66},{"s":"Model-3","t":595,"v":88},{"s":"Model-3","t":600,"v":41},

      {"s":"Model-4","t":0,"v":80},{"s":"Model-4","t":5,"v":70},{"s":"Model-4","t":10,"v":96},{"s":"Model-4","t":15,"v":93},{"s":"Model-4","t":20,"v":93},{"s":"Model-4","t":25,"v":85},{"s":"Model-4","t":30,"v":103},{"s":"Model-4","t":35,"v":92},{"s":"Model-4","t":40,"v":89},{"s":"Model-4","t":45,"v":85},
      {"s":"Model-4","t":50,"v":109},{"s":"Model-4","t":55,"v":87},{"s":"Model-4","t":60,"v":88},{"s":"Model-4","t":65,"v":76},{"s":"Model-4","t":70,"v":84},{"s":"Model-4","t":75,"v":92},{"s":"Model-4","t":80,"v":85},{"s":"Model-4","t":85,"v":96},{"s":"Model-4","t":90,"v":99},{"s":"Model-4","t":95,"v":61},
      {"s":"Model-4","t":100,"v":65},{"s":"Model-4","t":105,"v":57},{"s":"Model-4","t":110,"v":67},{"s":"Model-4","t":115,"v":68},{"s":"Model-4","t":120,"v":56},{"s":"Model-4","t":125,"v":72},{"s":"Model-4","t":130,"v":47},{"s":"Model-4","t":135,"v":56},{"s":"Model-4","t":140,"v":66},{"s":"Model-4","t":145,"v":56},
      {"s":"Model-4","t":150,"v":56},{"s":"Model-4","t":155,"v":59},{"s":"Model-4","t":160,"v":56},{"s":"Model-4","t":165,"v":63},{"s":"Model-4","t":170,"v":66},{"s":"Model-4","t":175,"v":61},{"s":"Model-4","t":180,"v":69},{"s":"Model-4","t":185,"v":71},{"s":"Model-4","t":190,"v":61},{"s":"Model-4","t":195,"v":49},
      {"s":"Model-4","t":200,"v":76},{"s":"Model-4","t":205,"v":61},{"s":"Model-4","t":210,"v":68},{"s":"Model-4","t":215,"v":47},{"s":"Model-4","t":220,"v":61},{"s":"Model-4","t":225,"v":63},{"s":"Model-4","t":230,"v":56},{"s":"Model-4","t":235,"v":69},{"s":"Model-4","t":240,"v":71},{"s":"Model-4","t":245,"v":72},
      {"s":"Model-4","t":250,"v":96},{"s":"Model-4","t":255,"v":62},{"s":"Model-4","t":260,"v":71},{"s":"Model-4","t":265,"v":77},{"s":"Model-4","t":270,"v":63},{"s":"Model-4","t":275,"v":72},{"s":"Model-4","t":280,"v":84},{"s":"Model-4","t":285,"v":86},{"s":"Model-4","t":290,"v":60},{"s":"Model-4","t":295,"v":82},
      {"s":"Model-4","t":300,"v":71},{"s":"Model-4","t":305,"v":70},{"s":"Model-4","t":310,"v":73},{"s":"Model-4","t":315,"v":82},{"s":"Model-4","t":320,"v":83},{"s":"Model-4","t":325,"v":53},{"s":"Model-4","t":330,"v":82},{"s":"Model-4","t":335,"v":58},{"s":"Model-4","t":340,"v":65},{"s":"Model-4","t":345,"v":57},
      {"s":"Model-4","t":350,"v":74},{"s":"Model-4","t":355,"v":70},{"s":"Model-4","t":360,"v":78},{"s":"Model-4","t":365,"v":62},{"s":"Model-4","t":370,"v":84},{"s":"Model-4","t":375,"v":89},{"s":"Model-4","t":380,"v":89},{"s":"Model-4","t":385,"v":75},{"s":"Model-4","t":390,"v":94},{"s":"Model-4","t":395,"v":91},
      {"s":"Model-4","t":400,"v":69},{"s":"Model-4","t":405,"v":82},{"s":"Model-4","t":410,"v":71},{"s":"Model-4","t":415,"v":77},{"s":"Model-4","t":420,"v":66},{"s":"Model-4","t":425,"v":92},{"s":"Model-4","t":430,"v":71},{"s":"Model-4","t":435,"v":68},{"s":"Model-4","t":440,"v":77},{"s":"Model-4","t":445,"v":69},
      {"s":"Model-4","t":450,"v":95},{"s":"Model-4","t":455,"v":70},{"s":"Model-4","t":460,"v":70},{"s":"Model-4","t":465,"v":69},{"s":"Model-4","t":470,"v":82},{"s":"Model-4","t":475,"v":84},{"s":"Model-4","t":480,"v":86},{"s":"Model-4","t":485,"v":76},{"s":"Model-4","t":490,"v":77},{"s":"Model-4","t":495,"v":69},
      {"s":"Model-4","t":500,"v":104},{"s":"Model-4","t":505,"v":85},{"s":"Model-4","t":510,"v":102},{"s":"Model-4","t":515,"v":96},{"s":"Model-4","t":520,"v":88},{"s":"Model-4","t":525,"v":76},{"s":"Model-4","t":530,"v":88},{"s":"Model-4","t":535,"v":93},{"s":"Model-4","t":540,"v":99},{"s":"Model-4","t":545,"v":95},
      {"s":"Model-4","t":550,"v":79},{"s":"Model-4","t":555,"v":80},{"s":"Model-4","t":560,"v":77},{"s":"Model-4","t":565,"v":86},{"s":"Model-4","t":570,"v":94},{"s":"Model-4","t":575,"v":92},{"s":"Model-4","t":580,"v":96},{"s":"Model-4","t":585,"v":84},{"s":"Model-4","t":590,"v":75},{"s":"Model-4","t":595,"v":83},{"s":"Model-4","t":600,"v":48},

      {"s":"Model-5","t":0,"v":86},{"s":"Model-5","t":5,"v":70},{"s":"Model-5","t":10,"v":90},{"s":"Model-5","t":15,"v":88},{"s":"Model-5","t":20,"v":87},{"s":"Model-5","t":25,"v":78},{"s":"Model-5","t":30,"v":97},{"s":"Model-5","t":35,"v":91},{"s":"Model-5","t":40,"v":85},{"s":"Model-5","t":45,"v":90},
      {"s":"Model-5","t":50,"v":102},{"s":"Model-5","t":55,"v":80},{"s":"Model-5","t":60,"v":89},{"s":"Model-5","t":65,"v":84},{"s":"Model-5","t":70,"v":85},{"s":"Model-5","t":75,"v":95},{"s":"Model-5","t":80,"v":85},{"s":"Model-5","t":85,"v":98},{"s":"Model-5","t":90,"v":94},{"s":"Model-5","t":95,"v":74},
      {"s":"Model-5","t":100,"v":71},{"s":"Model-5","t":105,"v":69},{"s":"Model-5","t":110,"v":76},{"s":"Model-5","t":115,"v":74},{"s":"Model-5","t":120,"v":68},{"s":"Model-5","t":125,"v":84},{"s":"Model-5","t":130,"v":61},{"s":"Model-5","t":135,"v":65},{"s":"Model-5","t":140,"v":77},{"s":"Model-5","t":145,"v":66},
      {"s":"Model-5","t":150,"v":65},{"s":"Model-5","t":155,"v":65},{"s":"Model-5","t":160,"v":61},{"s":"Model-5","t":165,"v":73},{"s":"Model-5","t":170,"v":72},{"s":"Model-5","t":175,"v":71},{"s":"Model-5","t":180,"v":72},{"s":"Model-5","t":185,"v":75},{"s":"Model-5","t":190,"v":71},{"s":"Model-5","t":195,"v":61},
      {"s":"Model-5","t":200,"v":82},{"s":"Model-5","t":205,"v":65},{"s":"Model-5","t":210,"v":71},{"s":"Model-5","t":215,"v":59},{"s":"Model-5","t":220,"v":76},{"s":"Model-5","t":225,"v":69},{"s":"Model-5","t":230,"v":65},{"s":"Model-5","t":235,"v":72},{"s":"Model-5","t":240,"v":81},{"s":"Model-5","t":245,"v":73},
      {"s":"Model-5","t":250,"v":94},{"s":"Model-5","t":255,"v":64},{"s":"Model-5","t":260,"v":85},{"s":"Model-5","t":265,"v":70},{"s":"Model-5","t":270,"v":73},{"s":"Model-5","t":275,"v":90},{"s":"Model-5","t":280,"v":84},{"s":"Model-5","t":285,"v":80},{"s":"Model-5","t":290,"v":67},{"s":"Model-5","t":295,"v":91},
      {"s":"Model-5","t":300,"v":80},{"s":"Model-5","t":305,"v":73},{"s":"Model-5","t":310,"v":80},{"s":"Model-5","t":315,"v":83},{"s":"Model-5","t":320,"v":84},{"s":"Model-5","t":325,"v":67},{"s":"Model-5","t":330,"v":87},{"s":"Model-5","t":335,"v":69},{"s":"Model-5","t":340,"v":69},{"s":"Model-5","t":345,"v":69},
      {"s":"Model-5","t":350,"v":79},{"s":"Model-5","t":355,"v":70},{"s":"Model-5","t":360,"v":78},{"s":"Model-5","t":365,"v":67},{"s":"Model-5","t":370,"v":86},{"s":"Model-5","t":375,"v":89},{"s":"Model-5","t":380,"v":84},{"s":"Model-5","t":385,"v":74},{"s":"Model-5","t":390,"v":91},{"s":"Model-5","t":395,"v":93},
      {"s":"Model-5","t":400,"v":74},{"s":"Model-5","t":405,"v":84},{"s":"Model-5","t":410,"v":80},{"s":"Model-5","t":415,"v":77},{"s":"Model-5","t":420,"v":68},{"s":"Model-5","t":425,"v":87},{"s":"Model-5","t":430,"v":76},{"s":"Model-5","t":435,"v":77},{"s":"Model-5","t":440,"v":86},{"s":"Model-5","t":445,"v":78},
      {"s":"Model-5","t":450,"v":95},{"s":"Model-5","t":455,"v":74},{"s":"Model-5","t":460,"v":78},{"s":"Model-5","t":465,"v":80},{"s":"Model-5","t":470,"v":80},{"s":"Model-5","t":475,"v":82},{"s":"Model-5","t":480,"v":86},{"s":"Model-5","t":485,"v":73},{"s":"Model-5","t":490,"v":77},{"s":"Model-5","t":495,"v":70},
      {"s":"Model-5","t":500,"v":99},{"s":"Model-5","t":505,"v":89},{"s":"Model-5","t":510,"v":107},{"s":"Model-5","t":515,"v":101},{"s":"Model-5","t":520,"v":88},{"s":"Model-5","t":525,"v":85},{"s":"Model-5","t":530,"v":91},{"s":"Model-5","t":535,"v":92},{"s":"Model-5","t":540,"v":105},{"s":"Model-5","t":545,"v":100},
      {"s":"Model-5","t":550,"v":83},{"s":"Model-5","t":555,"v":90},{"s":"Model-5","t":560,"v":80},{"s":"Model-5","t":565,"v":93},{"s":"Model-5","t":570,"v":95},{"s":"Model-5","t":575,"v":95},{"s":"Model-5","t":580,"v":94},{"s":"Model-5","t":585,"v":92},{"s":"Model-5","t":590,"v":73},{"s":"Model-5","t":595,"v":89},{"s":"Model-5","t":600,"v":73},

      {"s":"Model-6","t":0,"v":89},{"s":"Model-6","t":5,"v":66},{"s":"Model-6","t":10,"v":102},{"s":"Model-6","t":15,"v":97},{"s":"Model-6","t":20,"v":97},{"s":"Model-6","t":25,"v":107},{"s":"Model-6","t":30,"v":98},{"s":"Model-6","t":35,"v":97},{"s":"Model-6","t":40,"v":97},{"s":"Model-6","t":45,"v":97},
      {"s":"Model-6","t":50,"v":108},{"s":"Model-6","t":55,"v":107},{"s":"Model-6","t":60,"v":94},{"s":"Model-6","t":65,"v":87},{"s":"Model-6","t":70,"v":84},{"s":"Model-6","t":75,"v":95},{"s":"Model-6","t":80,"v":85},{"s":"Model-6","t":85,"v":102},{"s":"Model-6","t":90,"v":95},{"s":"Model-6","t":95,"v":68},
      {"s":"Model-6","t":100,"v":78},{"s":"Model-6","t":105,"v":86},{"s":"Model-6","t":110,"v":87},{"s":"Model-6","t":115,"v":80},{"s":"Model-6","t":120,"v":87},{"s":"Model-6","t":125,"v":87},{"s":"Model-6","t":130,"v":65},{"s":"Model-6","t":135,"v":67},{"s":"Model-6","t":140,"v":80},{"s":"Model-6","t":145,"v":87},
      {"s":"Model-6","t":150,"v":76},{"s":"Model-6","t":155,"v":87},{"s":"Model-6","t":160,"v":76},{"s":"Model-6","t":165,"v":78},{"s":"Model-6","t":170,"v":87},{"s":"Model-6","t":175,"v":74},{"s":"Model-6","t":180,"v":80},{"s":"Model-6","t":185,"v":98},{"s":"Model-6","t":190,"v":71},{"s":"Model-6","t":195,"v":66},
      {"s":"Model-6","t":200,"v":92},{"s":"Model-6","t":205,"v":80},{"s":"Model-6","t":210,"v":78},{"s":"Model-6","t":215,"v":68},{"s":"Model-6","t":220,"v":97},{"s":"Model-6","t":225,"v":76},{"s":"Model-6","t":230,"v":97},{"s":"Model-6","t":235,"v":75},{"s":"Model-6","t":240,"v":71},{"s":"Model-6","t":245,"v":87},
      {"s":"Model-6","t":250,"v":88},{"s":"Model-6","t":255,"v":64},{"s":"Model-6","t":260,"v":73},{"s":"Model-6","t":265,"v":80},{"s":"Model-6","t":270,"v":84},{"s":"Model-6","t":275,"v":92},{"s":"Model-6","t":280,"v":82},{"s":"Model-6","t":285,"v":97},{"s":"Model-6","t":290,"v":65},{"s":"Model-6","t":295,"v":82},
      {"s":"Model-6","t":300,"v":86},{"s":"Model-6","t":305,"v":85},{"s":"Model-6","t":310,"v":69},{"s":"Model-6","t":315,"v":90},{"s":"Model-6","t":320,"v":107},{"s":"Model-6","t":325,"v":75},{"s":"Model-6","t":330,"v":91},{"s":"Model-6","t":335,"v":77},{"s":"Model-6","t":340,"v":87},{"s":"Model-6","t":345,"v":88},
      {"s":"Model-6","t":350,"v":89},{"s":"Model-6","t":355,"v":86},{"s":"Model-6","t":360,"v":90},{"s":"Model-6","t":365,"v":87},{"s":"Model-6","t":370,"v":91},{"s":"Model-6","t":375,"v":101},{"s":"Model-6","t":380,"v":99},{"s":"Model-6","t":385,"v":98},{"s":"Model-6","t":390,"v":97},{"s":"Model-6","t":395,"v":98},
      {"s":"Model-6","t":400,"v":88},{"s":"Model-6","t":405,"v":86},{"s":"Model-6","t":410,"v":100},{"s":"Model-6","t":415,"v":88},{"s":"Model-6","t":420,"v":87},{"s":"Model-6","t":425,"v":103},{"s":"Model-6","t":430,"v":69},{"s":"Model-6","t":435,"v":89},{"s":"Model-6","t":440,"v":90},{"s":"Model-6","t":445,"v":87},
      {"s":"Model-6","t":450,"v":103},{"s":"Model-6","t":455,"v":98},{"s":"Model-6","t":460,"v":78},{"s":"Model-6","t":465,"v":79},{"s":"Model-6","t":470,"v":99},{"s":"Model-6","t":475,"v":99},{"s":"Model-6","t":480,"v":100},{"s":"Model-6","t":485,"v":87},{"s":"Model-6","t":490,"v":88},{"s":"Model-6","t":495,"v":97},
      {"s":"Model-6","t":500,"v":108},{"s":"Model-6","t":505,"v":89},{"s":"Model-6","t":510,"v":90},{"s":"Model-6","t":515,"v":100},{"s":"Model-6","t":520,"v":91},{"s":"Model-6","t":525,"v":87},{"s":"Model-6","t":530,"v":110},{"s":"Model-6","t":535,"v":110},{"s":"Model-6","t":540,"v":98},{"s":"Model-6","t":545,"v":95},
      {"s":"Model-6","t":550,"v":89},{"s":"Model-6","t":555,"v":99},{"s":"Model-6","t":560,"v":80},{"s":"Model-6","t":565,"v":99},{"s":"Model-6","t":570,"v":100},{"s":"Model-6","t":575,"v":110},{"s":"Model-6","t":580,"v":82},{"s":"Model-6","t":585,"v":100},{"s":"Model-6","t":590,"v":100},{"s":"Model-6","t":595,"v":110},{"s":"Model-6","t":600,"v":96},

      {"s":"True","t":0,"v":92},{"s":"True","t":5,"v":69},{"s":"True","t":10,"v":107},{"s":"True","t":15,"v":96},{"s":"True","t":20,"v":97},{"s":"True","t":25,"v":112},{"s":"True","t":30,"v":99},{"s":"True","t":35,"v":105},{"s":"True","t":40,"v":100},{"s":"True","t":45,"v":96},
      {"s":"True","t":50,"v":117},{"s":"True","t":55,"v":109},{"s":"True","t":60,"v":92},{"s":"True","t":65,"v":86},{"s":"True","t":70,"v":84},{"s":"True","t":75,"v":103},{"s":"True","t":80,"v":84},{"s":"True","t":85,"v":109},{"s":"True","t":90,"v":98},{"s":"True","t":95,"v":66},
      {"s":"True","t":100,"v":80},{"s":"True","t":105,"v":84},{"s":"True","t":110,"v":92},{"s":"True","t":115,"v":79},{"s":"True","t":120,"v":83},{"s":"True","t":125,"v":86},{"s":"True","t":130,"v":64},{"s":"True","t":135,"v":70},{"s":"True","t":140,"v":80},{"s":"True","t":145,"v":89},
      {"s":"True","t":150,"v":77},{"s":"True","t":155,"v":93},{"s":"True","t":160,"v":75},{"s":"True","t":165,"v":81},{"s":"True","t":170,"v":86},{"s":"True","t":175,"v":73},{"s":"True","t":180,"v":80},{"s":"True","t":185,"v":100},{"s":"True","t":190,"v":72},{"s":"True","t":195,"v":69},
      {"s":"True","t":200,"v":95},{"s":"True","t":205,"v":80},{"s":"True","t":210,"v":78},{"s":"True","t":215,"v":66},{"s":"True","t":220,"v":94},{"s":"True","t":225,"v":75},{"s":"True","t":230,"v":101},{"s":"True","t":235,"v":75},{"s":"True","t":240,"v":70},{"s":"True","t":245,"v":84},
      {"s":"True","t":250,"v":94},{"s":"True","t":255,"v":67},{"s":"True","t":260,"v":75},{"s":"True","t":265,"v":82},{"s":"True","t":270,"v":86},{"s":"True","t":275,"v":92},{"s":"True","t":280,"v":81},{"s":"True","t":285,"v":95},{"s":"True","t":290,"v":69},{"s":"True","t":295,"v":86},
      {"s":"True","t":300,"v":87},{"s":"True","t":305,"v":88},{"s":"True","t":310,"v":73},{"s":"True","t":315,"v":91},{"s":"True","t":320,"v":109},{"s":"True","t":325,"v":76},{"s":"True","t":330,"v":87},{"s":"True","t":335,"v":77},{"s":"True","t":340,"v":84},{"s":"True","t":345,"v":90},
      {"s":"True","t":350,"v":89},{"s":"True","t":355,"v":82},{"s":"True","t":360,"v":86},{"s":"True","t":365,"v":87},{"s":"True","t":370,"v":95},{"s":"True","t":375,"v":105},{"s":"True","t":380,"v":97},{"s":"True","t":385,"v":93},{"s":"True","t":390,"v":95},{"s":"True","t":395,"v":99},
      {"s":"True","t":400,"v":85},{"s":"True","t":405,"v":86},{"s":"True","t":410,"v":101},{"s":"True","t":415,"v":92},{"s":"True","t":420,"v":85},{"s":"True","t":425,"v":105},{"s":"True","t":430,"v":68},{"s":"True","t":435,"v":89},{"s":"True","t":440,"v":93},{"s":"True","t":445,"v":86},
      {"s":"True","t":450,"v":101},{"s":"True","t":455,"v":99},{"s":"True","t":460,"v":78},{"s":"True","t":465,"v":84},{"s":"True","t":470,"v":99},{"s":"True","t":475,"v":99},{"s":"True","t":480,"v":107},{"s":"True","t":485,"v":91},{"s":"True","t":490,"v":89},{"s":"True","t":495,"v":97},
      {"s":"True","t":500,"v":121},{"s":"True","t":505,"v":87},{"s":"True","t":510,"v":91},{"s":"True","t":515,"v":95},{"s":"True","t":520,"v":93},{"s":"True","t":525,"v":87},{"s":"True","t":530,"v":109},{"s":"True","t":535,"v":105},{"s":"True","t":540,"v":99},{"s":"True","t":545,"v":96},
      {"s":"True","t":550,"v":86},{"s":"True","t":555,"v":108},{"s":"True","t":560,"v":79},{"s":"True","t":565,"v":101},{"s":"True","t":570,"v":103},{"s":"True","t":575,"v":120},{"s":"True","t":580,"v":80},{"s":"True","t":585,"v":97},{"s":"True","t":590,"v":95},{"s":"True","t":595,"v":115},{"s":"True","t":600,"v":96}
    ]
  },
  "hconcat": [
    {
      "width": 1703,
      "height": 1137,
      "data": {"name": "c"},
      "title": {"text": "(c)", "orient": "bottom", "frame": "group", "anchor": "middle", "dx": -68, "offset": 95, "fontSize": 56, "fontWeight": "bold", "color": "black", "font": "Liberation Serif"},
      "layer": [
        {
          "mark": {"type": "line", "strokeWidth": 5.5},
          "encoding": {
            "x": {"field": "t", "type": "quantitative", "scale": {"domain": [0, 600], "nice": false, "zero": false},
              "axis": {"orient": "bottom", "values": [0, 120, 240, 360, 480, 600], "labelExpr": "'11:' + (30 + datum.value / 60)", "labelFontSize": 48, "labelPadding": 49, "tickSize": -20, "title": "Time", "titleFontSize": 54, "titleY": 74, "grid": true,
                "gridOpacity": {"condition": {"test": "datum.value > 0 && datum.value < 600", "value": 1}, "value": 0}}},
            "y": {"field": "v", "type": "quantitative", "scale": {"domain": [0, 150], "nice": false},
              "axis": {"orient": "left", "values": [0, 25, 50, 75, 100, 125, 150], "labelExpr": "datum.value % 50 === 0 ? datum.label : ''", "labelFontSize": 50, "labelPadding": 33, "tickSize": -13, "title": "Branch active power/kW", "titleFontSize": 56, "titleX": -110, "grid": true,
                "gridOpacity": {"condition": {"test": "datum.value === 50 || datum.value === 100", "value": 1}, "value": 0}}},
            "color": {"field": "s", "type": "nominal",
              "scale": {"domain": ["Model-1", "Model-2", "Model-3", "Model-4", "Model-5", "Model-6", "True"], "range": ["#EF6C2E", "#8C8C8C", "#7ED3F7", "#059596", "#EC3A8F", "#FF0000", "#000000"]},
              "legend": {"legendX": 409, "legendY": 44}}
          }
        },
        {
          "mark": {"type": "line", "strokeOpacity": 0},
          "encoding": {
            "x": {"field": "t", "type": "quantitative", "scale": {"domain": [0, 600], "nice": false, "zero": false},
              "axis": {"orient": "top", "values": [120, 240, 360, 480], "labels": false, "tickSize": -20, "title": null, "grid": false}},
            "y": {"field": "v", "type": "quantitative", "scale": {"domain": [0, 150], "nice": false},
              "axis": {"orient": "right", "values": [25, 50, 75, 100, 125], "labels": false, "tickSize": -13, "title": null, "grid": false}},
            "detail": {"field": "s"}
          }
        }
      ],
      "resolve": {"axis": {"x": "independent", "y": "independent"}}
    },
    {
      "width": 1703,
      "height": 1137,
      "data": {"name": "d"},
      "title": {"text": "(d)", "orient": "bottom", "frame": "group", "anchor": "middle", "dx": -42, "offset": 95, "fontSize": 56, "fontWeight": "bold", "color": "black", "font": "Liberation Serif"},
      "layer": [
        {
          "mark": {"type": "line", "strokeWidth": 5.5},
          "encoding": {
            "x": {"field": "t", "type": "quantitative", "scale": {"domain": [0, 600], "nice": false, "zero": false},
              "axis": {"orient": "bottom", "values": [0, 120, 240, 360, 480, 600], "labelExpr": "'11:' + (30 + datum.value / 60)", "labelFontSize": 48, "labelPadding": 49, "tickSize": -20, "title": "Time", "titleFontSize": 54, "titleY": 74, "grid": true,
                "gridOpacity": {"condition": {"test": "datum.value > 0 && datum.value < 600", "value": 1}, "value": 0}}},
            "y": {"field": "v", "type": "quantitative", "scale": {"domain": [0, 150], "nice": false},
              "axis": {"orient": "left", "values": [0, 25, 50, 75, 100, 125, 150], "labelExpr": "datum.value % 50 === 0 ? datum.label : ''", "labelFontSize": 50, "labelPadding": 33, "tickSize": -13, "title": "Branch reactive power/kW", "titleFontSize": 56, "titleX": -110, "grid": true,
                "gridOpacity": {"condition": {"test": "datum.value === 50 || datum.value === 100", "value": 1}, "value": 0}}},
            "color": {"field": "s", "type": "nominal",
              "scale": {"domain": ["Model-1", "Model-2", "Model-3", "Model-4", "Model-5", "Model-6", "True"], "range": ["#EF6C2E", "#8C8C8C", "#7ED3F7", "#059596", "#EC3A8F", "#FF0000", "#000000"]},
              "legend": {"legendX": 409, "legendY": 44}}
          }
        },
        {
          "mark": {"type": "line", "strokeOpacity": 0},
          "encoding": {
            "x": {"field": "t", "type": "quantitative", "scale": {"domain": [0, 600], "nice": false, "zero": false},
              "axis": {"orient": "top", "values": [120, 240, 360, 480], "labels": false, "tickSize": -20, "title": null, "grid": false}},
            "y": {"field": "v", "type": "quantitative", "scale": {"domain": [0, 150], "nice": false},
              "axis": {"orient": "right", "values": [25, 50, 75, 100, 125], "labels": false, "tickSize": -13, "title": null, "grid": false}},
            "detail": {"field": "s"}
          }
        }
      ],
      "resolve": {"axis": {"x": "independent", "y": "independent"}}
    }
  ]
}
